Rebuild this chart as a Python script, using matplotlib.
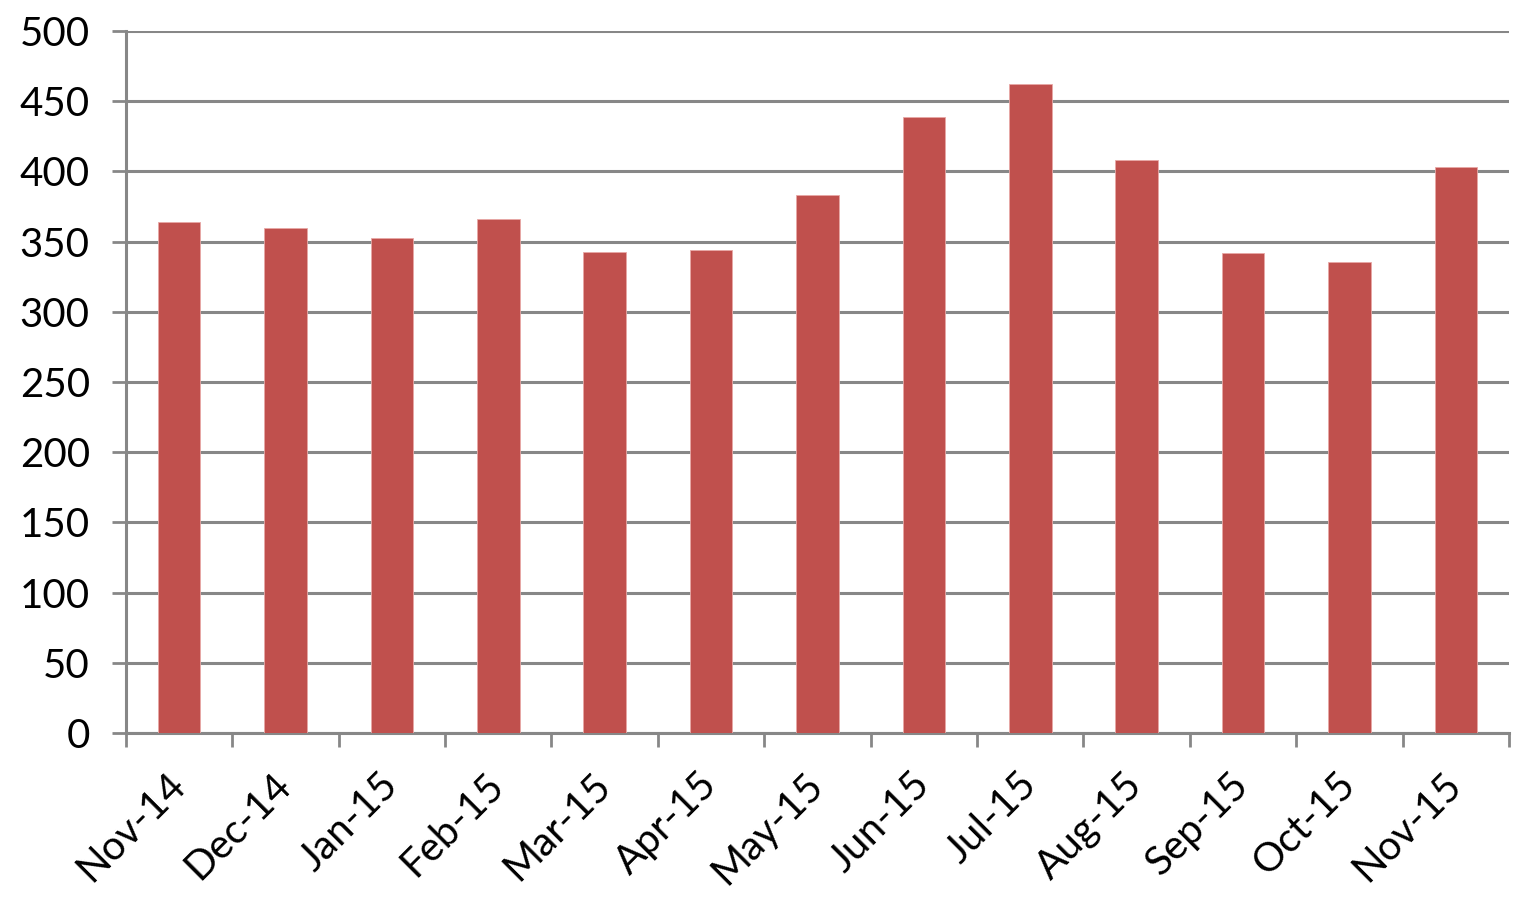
import numpy as np
import matplotlib.pyplot as plt

months = ["Nov-14", "Dec-14", "Jan-15", "Feb-15", "Mar-15", "Apr-15", "May-15",
          "Jun-15", "Jul-15", "Aug-15", "Sep-15", "Oct-15", "Nov-15"]
values = [363.7, 359.9, 352.8, 365.9, 342.8, 344.0, 383.2,
          439.0, 462.0, 407.9, 342.1, 335.7, 402.9]
yticks = [0, 50, 100, 150, 200, 250, 300, 350, 400, 450, 500]

plt.rcParams["font.family"] = ["Lato", "DejaVu Sans"]
grey = "#878787"

fig = plt.figure(figsize=(15.32, 9.02), dpi=100)
ax = fig.add_axes([0.0822, 0.1874, 0.9028, 0.7782])

x = np.arange(len(months))
ax.bar(x, values, width=0.4, color="#C0504D", edgecolor="#E8A8A6", linewidth=0.6, zorder=3)

ax.set_xlim(-0.5, len(months) - 0.5)
ax.set_ylim(0, 500)
ax.set_yticks(yticks)
ax.set_yticklabels([str(v) for v in yticks], fontsize=29)

ax.yaxis.grid(True, color=grey, linewidth=2.2, zorder=0)
ax.set_axisbelow(True)

# ticks on category boundaries, labels in the middle
ax.set_xticks(np.arange(len(months) + 1) - 0.5)
ax.set_xticklabels([])
ax.set_xticks(x, minor=True)
ax.set_xticklabels(months, minor=True, rotation=45, ha="right", va="center",
                   rotation_mode="anchor", fontsize=29)
ax.tick_params(axis="x", which="minor", length=0, pad=33)
ax.tick_params(axis="x", which="major", length=10, width=2, color=grey, direction="out")
ax.tick_params(axis="y", length=10, width=2, color=grey, direction="out", pad=16)

for side in ["top", "right"]:
    ax.spines[side].set_visible(False)
for side in ["left", "bottom"]:
    ax.spines[side].set_color(grey)
    ax.spines[side].set_linewidth(2.2)

fig.savefig("out.png", dpi=100)
